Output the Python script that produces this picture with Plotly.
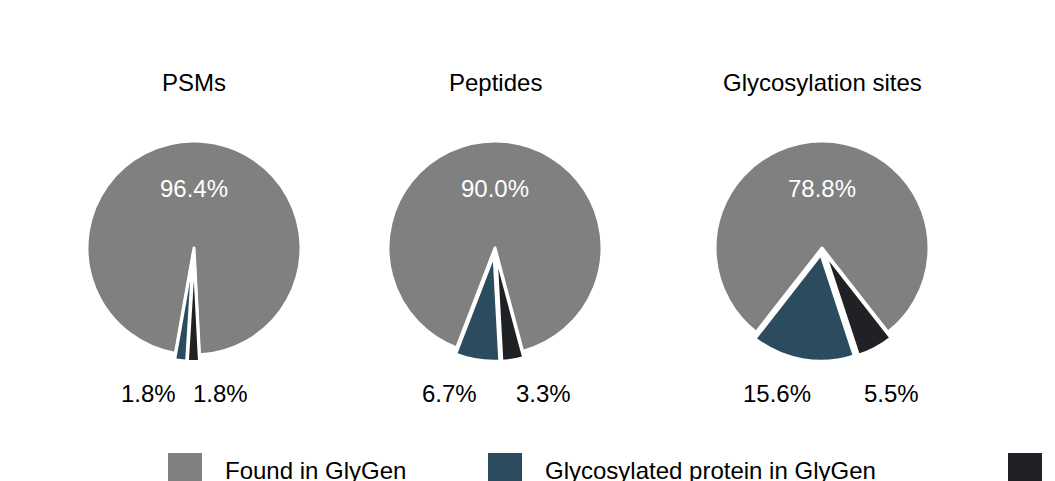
import plotly.graph_objects as go

W, H = 1055, 481
categories = ["Found in GlyGen", "Glycosylated protein in GlyGen", "Not found in GlyGen"]
colors = ["#808080", "#2b4c5e", "#1f2124"]
titles = ["PSMs", "Peptides", "Glycosylation sites"]
psms = [96.4, 1.8, 1.8]
peptides = [90.0, 6.7, 3.3]
sites = [78.8, 15.6, 5.5]
series = [psms, peptides, sites]

centers_x = [186, 487, 814]
rotations = [190, 201, 218]
R = 107
cy = 240

fig = go.Figure()
for i, vals in enumerate(series):
    r = R * 1.06
    cx = centers_x[i]
    fig.add_trace(go.Pie(
        values=vals, labels=categories, sort=False, direction="counterclockwise",
        rotation=rotations[i], pull=[0.0, 0.06, 0.06],
        marker=dict(colors=colors, line=dict(color="white", width=3)),
        textinfo="none", hoverinfo="label+percent", showlegend=False,
        domain=dict(x=[(cx - r) / W, (cx + r) / W], y=[(H - cy - r) / H, (H - cy + r) / H]),
    ))
    fig.add_annotation(x=cx / W, y=(H - 75) / H, xref="paper", yref="paper",
                       xanchor="center", yanchor="middle",
                       text=titles[i], showarrow=False, font=dict(size=24, color="black"))
    fig.add_annotation(x=cx / W, y=(H - 180) / H, xref="paper", yref="paper",
                       xanchor="center", yanchor="middle",
                       text=f"{vals[0]:.1f}%", showarrow=False, font=dict(size=24, color="white"))

small_x = [(140, 212), (441, 535), (769, 883)]
for i, vals in enumerate(series):
    for j in (1, 2):
        fig.add_annotation(x=small_x[i][j - 1] / W, y=(H - 385) / H, xref="paper", yref="paper",
                           xanchor="center", yanchor="middle",
                           text=f"{vals[j]:.1f}%", showarrow=False, font=dict(size=24, color="black"))

# manual legend (third label falls outside the canvas in the reference)
leg_sq = [160, 480, 1000]
leg_tx = [215, 535]
for k in range(3):
    fig.add_shape(type="rect", xref="paper", yref="paper",
                  x0=leg_sq[k] / W, x1=(leg_sq[k] + 34) / W,
                  y0=(H - 479) / H, y1=(H - 445) / H,
                  fillcolor=colors[k], line=dict(width=0))
for k in range(2):
    fig.add_annotation(x=leg_tx[k] / W, y=(H - 462) / H, xref="paper", yref="paper",
                       xanchor="left", yanchor="middle", text=categories[k], showarrow=False,
                       font=dict(size=24, color="black"))

fig.update_layout(width=W, height=H, margin=dict(l=0, r=0, t=0, b=0),
                  paper_bgcolor="white", plot_bgcolor="white",
                  font=dict(family="Liberation Sans, Arial, sans-serif"))
fig.write_html("out.html")
